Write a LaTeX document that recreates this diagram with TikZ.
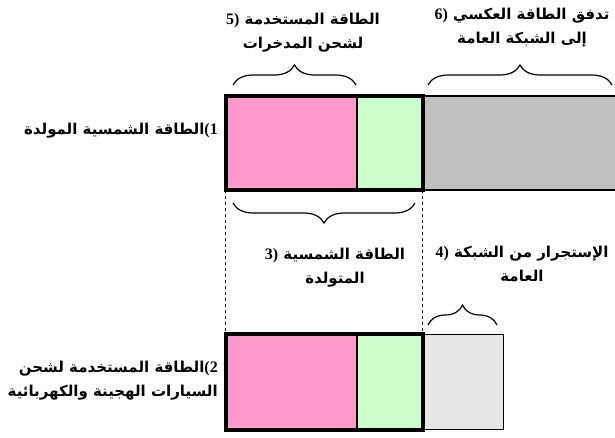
\documentclass[tikz,border=0pt]{standalone}
\usepackage{fontspec}
\newfontfamily\arabicfont[Script=Arabic]{DejaVu Sans}
\newfontfamily\numfont{Liberation Serif}
\TeXXeTstate=1
\usetikzlibrary{decorations.pathreplacing}
\definecolor{pinkbar}{HTML}{FF99CC}
\definecolor{greenbar}{HTML}{CCFFCC}
\definecolor{gridbar}{HTML}{C0C0C0}
\definecolor{drawbar}{HTML}{E6E6E6}
\newcommand{\nr}[1]{{\numfont\bfseries\fontsize{16}{24}\selectfont #1}}
\tikzset{
  lbl/.style={font=\arabicfont\bfseries\fontsize{15}{24}\selectfont, align=center, inner sep=0pt},
  brc/.style={decorate, decoration={brace, amplitude=20pt}, line width=1.2pt},
  barline/.style={draw, line width=1pt},
  solarbox/.style={draw, line width=4pt},
}
\begin{document}
\begin{tikzpicture}[x=1pt,y=-1pt]
  \useasboundingbox (0,0) rectangle (615,437);

  % solar part of both bars
  \foreach \y/\h in {96/94, 334/96} {
    \fill[pinkbar] (226,\y) rectangle (357,\y+\h);
    \fill[greenbar] (357,\y) rectangle (422,\y+\h);
    \draw[line width=1.2pt] (357,\y) -- (357,\y+\h);
  }
  \draw[gridbar, fill=gridbar] (424,96) rectangle (615,190);
  \draw[line width=1.2pt] (424,96) -- (615,96) (424,190) -- (615,190);
  \fill[drawbar] (424,334) rectangle (503,429);
  \draw[barline] (424,334) rectangle (503,429);
  \draw[solarbox] (226,96) rectangle (423,190);
  \draw[solarbox] (226,334) rectangle (423,430);

  % dashed guides
  \draw[dashed, line width=0.6pt] (225,190) -- (225,334);
  \draw[dashed, line width=0.6pt] (422,190) -- (422,334);

  % braces
  \coordinate (b5a) at (233,85);  \coordinate (b5b) at (356,85);
  \coordinate (b6a) at (428,85);  \coordinate (b6b) at (612,85);
  \coordinate (b3a) at (233,203); \coordinate (b3b) at (415,203);
  \coordinate (b4a) at (428,325); \coordinate (b4b) at (497,325);
  \draw[brc] (b5a) -- (b5b);
  \draw[brc] (b6a) -- (b6b);
  \draw[brc] (b3b) -- (b3a);
  \draw[brc] (b4a) -- (b4b);

  % labels
  \node[lbl] (l5) at (303,33) {\nr{5)} \beginR الطاقة المستخدمة\endR\\ \beginR لشحن المدخرات\endR};
  \node[lbl] (l6) at (522,28) {\nr{6)} \beginR تدفق الطاقة العكسي\endR\\ \beginR إلى الشبكة العامة\endR};
  \node[lbl] (l3) at (335,268) {\nr{3)} \beginR الطاقة الشمسية\endR\\ \beginR المتولدة\endR};
  \node[lbl] (l4) at (522,264) {\nr{4)} \beginR الإستجرار من الشبكة\endR\\ \beginR العامة\endR};
  \node[lbl, anchor=east] (l1) at (218,131) {\beginR الطاقة الشمسية المولدة\endR\nr{(1}};
  \node[lbl, anchor=east, align=right] (l2) at (218,381) {\beginR الطاقة المستخدمة لشحن\endR\nr{(2}\\ \beginR السيارات الهجينة والكهربائية\endR};
\end{tikzpicture}
\end{document}
